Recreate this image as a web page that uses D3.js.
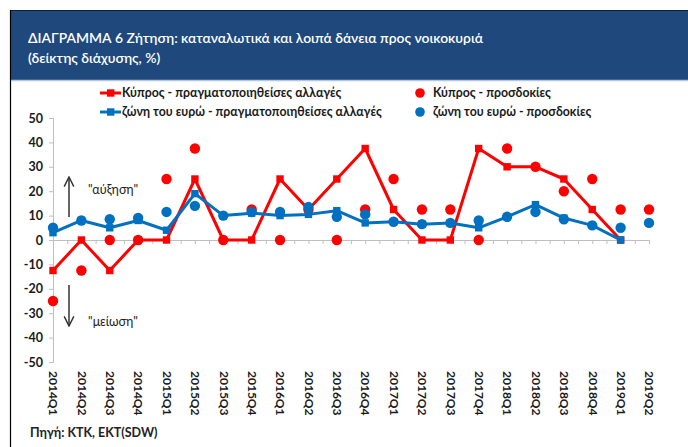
<!DOCTYPE html>
<html>
<head>
<meta charset="utf-8">
<script src="https://cdn.jsdelivr.net/npm/d3@7"></script>
<style>
  body { margin: 0; background: #fff; }
  svg { display: block; font-family: Lato, "Open Sans", sans-serif; }
</style>
</head>
<body>
<svg id="chart" width="688" height="447"></svg>
<script>
// quarters on the x axis
const quarters = ["2014Q1","2014Q2","2014Q3","2014Q4","2015Q1","2015Q2","2015Q3","2015Q4",
  "2016Q1","2016Q2","2016Q3","2016Q4","2017Q1","2017Q2","2017Q3","2017Q4",
  "2018Q1","2018Q2","2018Q3","2018Q4","2019Q1","2019Q2"];

// Κύπρος - πραγματοποιηθείσες αλλαγές (line)
const cyActual = [-12.5, 0, -12.5, 0, 0, 25, 0, 0, 25, 12.5, 25, 37.5, 12.5, 0, 0, 37.5, 30, 30, 25, 12.5, 0, null];
// Κύπρος - προσδοκίες (dots)
const cyExpect = [-25, -12.5, 0, 0, 25, 37.5, 0, 12.5, 0, 12.5, 0, 12.5, 25, 12.5, 12.5, 0, 37.5, 30, 20, 25, 12.5, 12.5];
// ζώνη του ευρώ - πραγματοποιηθείσες αλλαγές (line)
const euActual = [3, 8, 5, 8, 4, 19, 10, 11, 10, 10.5, 12, 7, 7.5, 6.5, 7, 5, 9.5, 14.5, 9, 6, 0, null];
// ζώνη του ευρώ - προσδοκίες (dots)
const euExpect = [5, 8, 8.5, 9, 11.5, 14, 10, 11.5, 11.5, 13.5, 9.5, 10.5, 7.5, 6.5, 7, 8, 9.5, 11.5, 8.5, 6, 5, 7];

const yTicks = [-50, -40, -30, -20, -10, 0, 10, 20, 30, 40, 50];

const red = "#ff0000", blue = "#0070c0";

const svg = d3.select("#chart");

// frame + header
svg.append("rect").attr("x", 10).attr("y", 10).attr("width", 678).attr("height", 70).attr("fill", "#1f497d");
svg.append("line").attr("x1", 10).attr("x2", 688).attr("y1", 10.5).attr("y2", 10.5).attr("stroke", "#0d1f33").attr("stroke-width", 1);
svg.append("line").attr("x1", 10).attr("x2", 688).attr("y1", 80.5).attr("y2", 80.5).attr("stroke", "#b9c6d8").attr("stroke-width", 1.5);
svg.append("line").attr("x1", 10.5).attr("x2", 10.5).attr("y1", 10).attr("y2", 447).attr("stroke", "#000").attr("stroke-width", 1.2);

const title = svg.append("text").attr("fill", "#fff").attr("font-size", 13.9).attr("font-weight", 600);
title.append("tspan").attr("x", 28).attr("y", 43).text("ΔΙΑΓΡΑΜΜΑ 6 Ζήτηση: καταναλωτικά και λοιπά δάνεια προς νοικοκυριά");
title.append("tspan").attr("x", 28).attr("y", 63).text("(δείκτης διάχυσης, %)");

// scales
const x = d3.scalePoint().domain(quarters).range([53, 649]);
const xi = d3.scaleLinear().domain([0, quarters.length - 1]).range([53, 649]);
const y = d3.scaleLinear().domain([-50, 50]).range([362, 118]);

// y axis
const yAxis = svg.append("g").attr("transform", "translate(53,0)")
  .call(d3.axisLeft(y).tickValues(yTicks).tickSize(4).tickPadding(6).tickFormat(d => String(d)));
yAxis.selectAll("path, line").attr("stroke", "#bfbfbf");
yAxis.selectAll("text").attr("font-size", 12.5).attr("font-weight", 700).attr("fill", "#1a1a1a")
  .attr("font-family", "Lato, sans-serif");

// zero line with tick marks
const zAxis = svg.append("g").attr("transform", `translate(0,${y(0)})`)
  .call(d3.axisBottom(xi).tickValues(d3.range(0, quarters.length - 0.5, 0.5)).tickSize(4).tickSizeOuter(0).tickFormat(""));
zAxis.selectAll("path, line").attr("stroke", "#bfbfbf");

// category labels at bottom
const xAxis = svg.append("g").attr("transform", "translate(0,368)")
  .call(d3.axisBottom(x).tickSize(0).tickPadding(0));
xAxis.select(".domain").remove();
xAxis.selectAll("text")
  .attr("transform", "rotate(90)")
  .attr("x", 3).attr("y", 0).attr("dy", "0.35em")
  .attr("text-anchor", "start")
  .attr("font-size", 12).attr("font-weight", 700).attr("fill", "#1a1a1a")
  .attr("font-family", "Lato, sans-serif");

// series
function drawLine(vals, color) {
  const pts = quarters.map((q, i) => ({q, v: vals[i]})).filter(d => d.v !== null);
  svg.append("path").datum(pts)
    .attr("fill", "none").attr("stroke", color).attr("stroke-width", 3).attr("stroke-linejoin", "round")
    .attr("d", d3.line().x(d => x(d.q)).y(d => y(d.v)));
  svg.append("g").selectAll("rect").data(pts).enter().append("rect")
    .attr("x", d => x(d.q) - 3.7).attr("y", d => y(d.v) - 3.7)
    .attr("width", 7.4).attr("height", 7.4).attr("fill", color);
}
function drawDots(vals, color) {
  const pts = quarters.map((q, i) => ({q, v: vals[i]})).filter(d => d.v !== null);
  svg.append("g").selectAll("circle").data(pts).enter().append("circle")
    .attr("cx", d => x(d.q)).attr("cy", d => y(d.v)).attr("r", 5.2).attr("fill", color);
}
drawDots(cyExpect, red);
drawLine(cyActual, red);
drawLine(euActual, blue);
drawDots(euExpect, blue);

// legend
const legend = [
  {label: "Κύπρος - πραγματοποιηθείσες αλλαγές", color: red, type: "line", lx: 100, ly: 93},
  {label: "ζώνη του ευρώ - πραγματοποιηθείσες αλλαγές", color: blue, type: "line", lx: 100, ly: 112},
  {label: "Κύπρος - προσδοκίες", color: red, type: "dot", lx: 420, ly: 93},
  {label: "ζώνη του ευρώ - προσδοκίες", color: blue, type: "dot", lx: 420, ly: 112}
];
const lg = svg.append("g").selectAll("g").data(legend).enter().append("g");
lg.filter(d => d.type === "line").append("line")
  .attr("x1", d => d.lx).attr("x2", d => d.lx + 21).attr("y1", d => d.ly).attr("y2", d => d.ly)
  .attr("stroke", d => d.color).attr("stroke-width", 3);
lg.filter(d => d.type === "line").append("rect")
  .attr("x", d => d.lx + 7).attr("y", d => d.ly - 3.7).attr("width", 7.4).attr("height", 7.4).attr("fill", d => d.color);
lg.filter(d => d.type === "dot").append("circle")
  .attr("cx", d => d.lx).attr("cy", d => d.ly).attr("r", 4.8).attr("fill", d => d.color);
lg.append("text")
  .attr("x", d => d.type === "line" ? d.lx + 22 : d.lx + 13).attr("y", d => d.ly).attr("dy", "0.35em")
  .attr("font-size", 12.3).attr("font-weight", 700).attr("fill", "#1a1a1a")
  .text(d => d.label);

// annotations
svg.append("defs").append("marker").attr("id", "arr").attr("viewBox", "0 0 10 10")
  .attr("refX", 9).attr("refY", 5).attr("markerWidth", 8).attr("markerHeight", 8).attr("orient", "auto")
  .append("path").attr("d", "M1,1 L9,5 L1,9").attr("fill", "none").attr("stroke", "#333").attr("stroke-width", 1.2);
svg.append("line").attr("x1", 69).attr("x2", 69).attr("y1", 217).attr("y2", 177)
  .attr("stroke", "#333").attr("stroke-width", 1.5).attr("marker-end", "url(#arr)");
svg.append("line").attr("x1", 69).attr("x2", 69).attr("y1", 285).attr("y2", 326)
  .attr("stroke", "#333").attr("stroke-width", 1.5).attr("marker-end", "url(#arr)");
svg.append("text").attr("x", 88).attr("y", 190).attr("dy", "0.35em").attr("font-size", 12.5).attr("fill", "#222").text("\"αύξηση\"");
svg.append("text").attr("x", 88).attr("y", 322).attr("dy", "0.35em").attr("font-size", 12.5).attr("fill", "#222").text("\"μείωση\"");

// source
svg.append("text").attr("x", 30).attr("y", 433).attr("dy", "0.35em")
  .attr("font-size", 12.5).attr("font-weight", 700).attr("fill", "#222").text("Πηγή: KTK, EKT(SDW)");
</script>
</body>
</html>
